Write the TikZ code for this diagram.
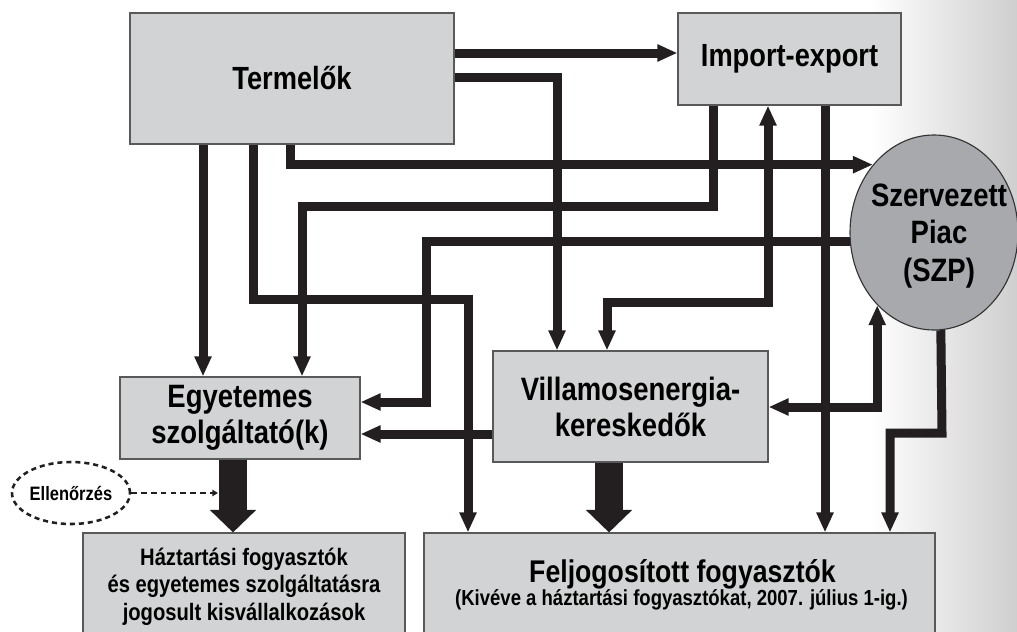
\documentclass[tikz,border=0pt]{standalone}
\usepackage{fontspec}
\setmainfont{Liberation Sans}[FakeStretch=0.85]
\usetikzlibrary{arrows.meta, shapes.geometric}
\definecolor{boxgray}{HTML}{D1D3D4}
\definecolor{mktgray}{HTML}{A7A9AC}
\definecolor{ink}{HTML}{231F20}
\newcommand{\pxl}{0.025cm}

\begin{document}
\begin{tikzpicture}[x = 0.025cm, y = -0.025cm,
    box/.style = {draw = black!65, line width = 0.8pt, fill = boxgray, inner sep = 0pt, align = center},
    bigtxt/.style = {font = \bfseries\fontsize{22.8}{27}\selectfont},
    midtxt/.style = {font = \bfseries\fontsize{23}{25.6}\selectfont},
    smalltxt/.style = {font = \bfseries\fontsize{16.9}{19.6}\selectfont},
    flow/.style = {draw = ink, line width = 6.4pt, line join = miter, -{Triangle[length = 14.2pt, width = 11.4pt]}},
    flowboth/.style = {flow, {Triangle[length = 14.2pt, width = 11.4pt]}-{Triangle[length = 14.2pt, width = 11.4pt]}},
    fat/.style = {draw = ink, line width = 19.4pt, -{Triangle[length = 16pt, width = 32pt]}},
    dashes/.style = {line width = 1.8pt, dash pattern = on 3.6pt off 2.8pt}]
    \useasboundingbox (0, 0) rectangle (1017, 631);
    \clip (0, 0) rectangle (1017, 631);
    \shade [left color = white, right color = black!19] (870, 0) rectangle (1017, 631);

    % boxes
    \node [box, bigtxt, minimum width = 324*\pxl, minimum height = 131*\pxl] (prod) at (292, 78.5) {Termelők};
    \node [box, bigtxt, minimum width = 223*\pxl, minimum height = 92*\pxl] (impex) at (789.5, 59) {Import-export};
    \node [ellipse, draw = black!80, line width = 0.8pt, fill = mktgray, inner sep = 0pt, minimum width = 168*\pxl, minimum height = 195*\pxl] (szp) at (934, 232.5) {};
    \node [midtxt, font = \bfseries\fontsize{23}{26.7}\selectfont, align = center, inner sep = 0pt] (szptxt) at (939, 236) {Szervezett\\Piac\\(SZP)};
    \node [box, midtxt, minimum width = 240*\pxl, minimum height = 82*\pxl] (egyet) at (240, 418) {Egyetemes\\szolgáltató(k)};
    \node [box, midtxt, minimum width = 275*\pxl, minimum height = 111*\pxl] (keresk) at (630.5, 406.5) {Villamosenergia-\\kereskedők};
    \node [box, smalltxt, minimum width = 322*\pxl, minimum height = 107*\pxl] (haztart) at (244, 586.5) {Háztartási fogyasztók\\és egyetemes szolgáltatásra\\jogosult kisvállalkozások};
    \node [box, minimum width = 511*\pxl, minimum height = 107*\pxl] (feljog) at (679.5, 586.5) {};
    \node [anchor = base, inner sep = 0pt, font = \bfseries\fontsize{22.3}{26}\selectfont] (feljogtxt) at (682.5, 582) {Feljogosított fogyasztók};
    \node [anchor = base, inner sep = 0pt, font = \bfseries\fontsize{15.5}{18}\selectfont] (feljogsub) at (681.5, 605) {(Kivéve a háztartási fogyasztókat, 2007. július 1-ig.)};
    \node [ellipse, draw = ink, dashes, inner sep = 0pt, minimum width = 118*\pxl, minimum height = 62*\pxl, font = \bfseries\fontsize{13.8}{16}\selectfont] (ellen) at (71, 493) {Ellenőrzés};
    \coordinate (chk) at (218, 493);

    % flows
    \draw [flow] (prod.east |- 0, 53) -- (impex.west |- 0, 53);
    \draw [flow] (prod.east |- 0, 77) -| (557, 0 |- keresk.north);
    \draw [flow] (290, 0 |- prod.south) |- (szp.132.7);
    \draw [flow] (203, 0 |- prod.south) -- (203, 0 |- egyet.north);
    \draw [flow] (253, 0 |- prod.south) -- (253, 299) -- (468, 299) -- (468, 0 |- feljog.north);
    \draw [flow] (713, 0 |- impex.south) -- (713, 206) -- (302, 206) -- (302, 0 |- egyet.north);
    \draw [flow] (szp.186.5) -| (426, 402) -- (egyet.east |- 0, 402);
    \draw [flow] (keresk.west |- 0, 434) -- (egyet.east |- 0, 434);
    \draw [flowboth] (607, 0 |- keresk.north) -- (607, 302) -- (768, 302) -- (768, 0 |- impex.south);
    \draw [flow] (825, 0 |- impex.south) -- (825, 0 |- feljog.north);
    \draw [flowboth] (keresk.east |- 0, 407) -| (szp.232.8);
    \draw [flow] (szp.274.7) -- (942, 433) -- (890, 433) -- (890, 0 |- feljog.north);
    \draw [fat] (233, 0 |- egyet.south) -- (233, 0 |- haztart.north);
    \draw [fat] (609, 0 |- keresk.south) -- (609, 0 |- feljog.north);
    \draw [ink, line width = 1.5pt, dash pattern = on 4pt off 3pt, -{Triangle[length = 4pt, width = 4.5pt]}] (ellen.east) -- (chk);
\end{tikzpicture}
\end{document}
